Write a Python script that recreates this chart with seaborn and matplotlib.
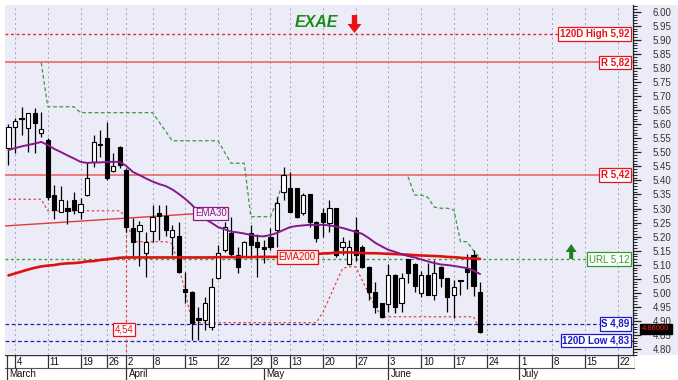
import numpy as np
import pandas as pd
import matplotlib
matplotlib.use("Agg")
import matplotlib.pyplot as plt
import seaborn as sns
from matplotlib.ticker import MultipleLocator, FormatStrFormatter
from matplotlib.transforms import blended_transform_factory
from matplotlib.patches import Rectangle, Polygon

sns.set_style("white")
plt.rcParams['font.family'] = ['Liberation Sans', 'DejaVu Sans']

# ---------------- data ----------------
idx = list(range(-1, 72))  # trading-day index (0 = Mar 4)
opens = [5.514, 5.589, 5.622, 5.587, 5.639, 5.568, 5.544, 5.348, 5.289, 5.301,
         5.330, 5.289, 5.348, 5.467, 5.530, 5.550, 5.435, 5.520, 5.437, 5.232,
         5.221, 5.141, 5.221, 5.283, 5.274, 5.200, 5.201, 5.013, 5.004, 4.909,
         4.903, 4.880, 5.052, 5.153, 5.212, 5.135, 5.131, 5.213, 5.182, 5.163,
         5.200, 5.224, 5.360, 5.372, 5.372, 5.283, 5.351, 5.253, 5.283, 5.250,
         5.301, 5.164, 5.103, 5.222, 5.163, 5.093, 5.004, 4.963, 4.961, 5.064,
         4.963, 5.120, 5.103, 5.000, 5.064, 4.993, 5.093, 5.052, 4.991, 5.046,
         5.090, 5.135, 5.003]
highs = [5.601, 5.621, 5.660, 5.641, 5.657, 5.645, 5.550, 5.384, 5.380, 5.330,
         5.360, 5.337, 5.461, 5.562, 5.580, 5.609, 5.497, 5.522, 5.444, 5.265,
         5.257, 5.218, 5.313, 5.313, 5.313, 5.242, 5.252, 5.075, 5.006, 4.951,
         4.987, 5.052, 5.170, 5.253, 5.271, 5.164, 5.185, 5.242, 5.210, 5.188,
         5.231, 5.342, 5.449, 5.431, 5.374, 5.355, 5.352, 5.255, 5.301, 5.330,
         5.303, 5.200, 5.188, 5.271, 5.170, 5.096, 5.040, 4.965, 5.101, 5.066,
         5.071, 5.122, 5.105, 5.079, 5.105, 5.117, 5.095, 5.054, 5.046, 5.047,
         5.140, 5.153, 5.039]
lows = [5.455, 5.497, 5.560, 5.501, 5.499, 5.555, 5.330, 5.263, 5.287, 5.245,
        5.281, 5.262, 5.346, 5.449, 5.482, 5.402, 5.430, 5.444, 5.217, 5.128,
        5.096, 5.057, 5.182, 5.188, 5.202, 5.135, 5.071, 4.964, 4.832, 4.832,
        4.868, 4.868, 5.050, 5.147, 5.129, 5.071, 5.128, 5.130, 5.056, 5.108,
        5.153, 5.164, 5.330, 5.287, 5.268, 5.277, 5.236, 5.182, 5.200, 5.218,
        5.129, 5.135, 5.099, 5.113, 5.089, 4.975, 4.927, 4.912, 4.932, 4.929,
        4.933, 5.034, 5.004, 4.984, 4.991, 4.975, 5.022, 4.933, 4.910, 4.993,
        5.014, 4.989, 4.858]
closes = [5.589, 5.613, 5.620, 5.639, 5.603, 5.582, 5.342, 5.295, 5.330, 5.292,
          5.295, 5.316, 5.408, 5.538, 5.527, 5.409, 5.451, 5.455, 5.236, 5.182,
          5.242, 5.182, 5.271, 5.275, 5.224, 5.224, 5.074, 5.004, 4.893, 4.904,
          4.963, 5.020, 5.141, 5.233, 5.138, 5.093, 5.182, 5.172, 5.164, 5.155,
          5.164, 5.319, 5.419, 5.289, 5.271, 5.348, 5.253, 5.194, 5.253, 5.301,
          5.135, 5.182, 5.164, 5.135, 5.093, 5.004, 4.951, 4.915, 5.064, 4.951,
          5.052, 5.070, 5.023, 5.064, 4.993, 5.071, 5.052, 4.984, 5.020, 5.044,
          5.074, 5.023, 4.860]
ema30 = [5.508, 5.515, 5.521, 5.526, 5.531, 5.537, 5.526, 5.512, 5.501, 5.489,
         5.478, 5.466, 5.462, 5.464, 5.464, 5.466, 5.466, 5.466, 5.451, 5.430,
         5.419, 5.407, 5.396, 5.387, 5.380, 5.368, 5.352, 5.334, 5.313, 5.288,
         5.263, 5.249, 5.234, 5.226, 5.218, 5.215, 5.211, 5.206, 5.202, 5.201,
         5.206, 5.213, 5.224, 5.234, 5.238, 5.240, 5.242, 5.242, 5.242, 5.240,
         5.236, 5.231, 5.224, 5.217, 5.210, 5.195, 5.178, 5.165, 5.153, 5.146,
         5.138, 5.131, 5.126, 5.119, 5.112, 5.106, 5.101, 5.099, 5.096, 5.092,
         5.088, 5.079, 5.067]
ema200 = [5.062, 5.069, 5.076, 5.083, 5.089, 5.094, 5.097, 5.099, 5.103, 5.105,
          5.106, 5.108, 5.112, 5.113, 5.117, 5.119, 5.122, 5.125, 5.126, 5.126,
          5.126, 5.126, 5.126, 5.126, 5.126, 5.126, 5.126, 5.126, 5.126, 5.126,
          5.126, 5.126, 5.127, 5.127, 5.127, 5.127, 5.127, 5.127, 5.128, 5.128,
          5.128, 5.128, 5.131, 5.132, 5.133, 5.135, 5.137, 5.138, 5.140, 5.141,
          5.143, 5.144, 5.144, 5.143, 5.142, 5.141, 5.141, 5.140, 5.139, 5.138,
          5.137, 5.136, 5.134, 5.133, 5.132, 5.131, 5.130, 5.128, 5.127, 5.125,
          5.123, 5.122, 5.121]
support_stop = [5.333, 5.333, 5.333, 5.333, 5.333, 5.333, 5.292, 5.292, 5.292, 5.292,
                5.292, 5.292, 5.292, 5.292, 5.292, 5.292, 5.292, 5.292, 5.266, 5.182,
                5.182, 5.182, 5.182, 5.182, 5.182, 5.175, 5.090, 5.006, 4.894, 4.894,
                4.894, 4.894, 4.894, 4.894, 4.894, 4.894, 4.894, 4.894, 4.894, 4.894,
                4.894, 4.894, 4.894, 4.894, 4.894, 4.894, 4.894, 4.894, 4.931, 4.983,
                5.035, 5.087, 5.093, 5.093, 5.045, 4.997, 4.950, 4.915, 4.915, 4.915,
                4.915, 4.915, 4.915, 4.915, 4.915, 4.915, 4.915, 4.915, 4.915, 4.915,
                4.915, 4.915, 4.868]
stop1_idx = list(range(4, 42))
stop1 = [5.819, 5.662, 5.662, 5.662, 5.662, 5.662, 5.641, 5.641, 5.641, 5.641,
         5.641, 5.641, 5.641, 5.641, 5.641, 5.641, 5.641, 5.641, 5.608, 5.575,
         5.541, 5.541, 5.541, 5.541, 5.541, 5.541, 5.541, 5.541, 5.500, 5.461,
         5.461, 5.461, 5.271, 5.271, 5.271, 5.271, 5.330, 5.402]
stop2_idx = list(range(60, 72))
stop2 = [5.413, 5.348, 5.348, 5.340, 5.305, 5.301, 5.301, 5.295, 5.182, 5.182,
         5.150, 5.123]
trend_x = [-1.53, 27.17]
trend_y = [5.238, 5.281]
target_idx = 17
target_top = 5.266

levels = [5.92, 5.82, 5.42, 5.12, 4.89, 4.83]
level_labels = ["120D High 5,92", "R 5,82", "R 5,42", "URL 5,12", "S 4,89", "120D Low 4,83"]
last_price = "4.86000"

week_idx = [0, 5, 10, 14, 17, 21, 26, 31, 36, 39, 42, 47, 52, 57, 62, 67, 72, 77, 82, 87, 92]
week_labels = ["4", "11", "19", "26", "2", "8", "15", "22", "29", "8", "13", "20", "27",
               "3", "10", "17", "24", "1", "8", "15", "22"]
month_idx = [-1.2, 17, 38, 57, 77]
month_labels = ["March", "April", "May", "June", "July"]

# ---------------- figure ----------------
W, H = 678, 380
LAV = '#ECECF8'
fig = plt.figure(figsize=(W / 100, H / 100), dpi=100, facecolor='white')
fig.add_artist(Rectangle((5 / W, 25 / H), 673 / W, 350 / H, transform=fig.transFigure,
                         facecolor=LAV, edgecolor='none', zorder=-5))
ax = fig.add_axes([5 / W, 25 / H, 628 / W, 350 / H])
ax.set_facecolor(LAV)
XL = (-1.53, 94.34)
YL = (4.779, 6.024)
ax.set_xlim(*XL)
ax.set_ylim(*YL)

for s in ['top', 'left', 'bottom']:
    ax.spines[s].set_visible(False)
ax.spines['right'].set_color('#222222')
ax.spines['right'].set_linewidth(0.9)
ax.set_xticks([])
ax.yaxis.tick_right()
ax.yaxis.set_major_locator(MultipleLocator(0.05))
ax.yaxis.set_minor_locator(MultipleLocator(0.01))
ax.yaxis.set_major_formatter(FormatStrFormatter('%.2f'))
ax.tick_params(axis='y', which='major', length=6, width=0.9, pad=8, labelsize=7,
               colors='#222222', labelcolor='#333333')
ax.tick_params(axis='y', which='minor', length=3, width=0.7, colors='#222222')

# vertical grid
for i in week_idx:
    ax.axvline(i, color='#A4A4B4', lw=0.7, ls=(0, (2, 3)), zorder=0.5)

# horizontal levels
lv_col = ['#E8222A', '#EE5A5A', '#EE5A5A', '#3A9E3A', '#24249E', '#24249E']
lv_ls = [(0, (2, 2)), '-', '-', (0, (2, 2)), (0, (3, 2)), (0, (3, 2))]
lv_lw = [1.0, 1.1, 1.1, 1.0, 0.9, 0.9]
for v, c, ls, lw in zip(levels, lv_col, lv_ls, lv_lw):
    ax.axhline(v, color=c, ls=ls, lw=lw, zorder=3)

# stops
ax.plot(idx, support_stop, color='#E04848', lw=0.9, ls=(0, (2, 2)), zorder=3.5)
ax.plot(stop1_idx, stop1, color='#3C9A3C', lw=0.9, ls=(0, (3, 2)), zorder=3.5)
ax.plot(stop2_idx, stop2, color='#3C9A3C', lw=0.9, ls=(0, (3, 2)), zorder=3.5)
ax.vlines(target_idx, 4.70, target_top, color='#E04848', lw=0.9, ls=(0, (2, 2)), zorder=3.5)
ax.plot(trend_x, trend_y, color='#E23A3A', lw=1.0, zorder=3.6)

# candles
df = pd.DataFrame({'idx': idx, 'open': opens, 'high': highs, 'low': lows, 'close': closes,
                   'ema30': ema30, 'ema200': ema200})
up = df['close'] >= df['open']
ax.vlines(df['idx'], df['low'], df['high'], color='black', lw=0.9, zorder=5)
bottom = np.minimum(df['open'], df['close'])
height = np.maximum((df['close'] - df['open']).abs(), 0.003)
ax.bar(df['idx'], height, bottom=bottom, width=0.64,
       color=np.where(up, 'white', 'black'), edgecolor='black', linewidth=0.8, zorder=6)

# EMAs
sns.lineplot(data=df, x='idx', y='ema200', ax=ax, color='#E01010', lw=1.9, zorder=7)
sns.lineplot(data=df, x='idx', y='ema30', ax=ax, color='#86188A', lw=1.4, zorder=7.5)
ax.set_xlabel('')
ax.set_ylabel('')
ax.set_xlim(*XL)
ax.set_ylim(*YL)

# level label boxes
tr = blended_transform_factory(ax.transAxes, ax.transData)
lab_col = ['#E8141C', '#E8141C', '#E8141C', '#2E9B2E', '#1A1AC8', '#1A1AC8']
lab_w = ['bold', 'bold', 'bold', 'normal', 'bold', 'bold']
for v, t, c, w in zip(levels, level_labels, lab_col, lab_w):
    ax.text(0.9945, v, t, transform=tr, ha='right', va='center', fontsize=7, color=c,
            fontweight=w, zorder=10,
            bbox=dict(boxstyle='square,pad=0.18', fc='white', ec=c, lw=0.9))

ax.text(29.87, 5.283, 'EMA30', ha='center', va='center', fontsize=7, color='#86188A', zorder=10,
        bbox=dict(boxstyle='square,pad=0.18', fc='#F8F0F8', ec='#86188A', lw=0.9))
ax.text(43.09, 5.127, 'EMA200', ha='center', va='center', fontsize=7, color='#E01010', zorder=10,
        bbox=dict(boxstyle='square,pad=0.18', fc='#FBEFEF', ec='#E01010', lw=0.9))
ax.text(16.64, 4.869, '4,54', ha='center', va='center', fontsize=7, color='#E8141C', zorder=10,
        bbox=dict(boxstyle='square,pad=0.18', fc='white', ec='#E8141C', lw=0.9))

# title
ax.text(0.4952, 0.9486, 'EXAE', transform=ax.transAxes, ha='center', va='center',
        fontsize=11.5, fontweight='bold', fontstyle='italic', color='#1A8C1A', zorder=10)


def px_poly(points, color):
    """Decorative arrow drawn in figure pixel coordinates (y measured from top)."""
    pts = [(x / W, (H - y) / H) for x, y in points]
    fig.add_artist(Polygon(pts, closed=True, transform=fig.transFigure,
                           facecolor=color, edgecolor='none', zorder=20))


# red down arrow next to the title
px_poly([(351.8, 15), (357.2, 15), (357.2, 24), (361.5, 24), (354.5, 33),
         (347.5, 24), (351.8, 24)], '#EE1111')
# green up arrow near URL level
px_poly([(569.2, 259), (573.2, 259), (573.2, 252), (576.7, 252), (571.2, 244),
         (565.7, 252), (569.2, 252)], '#1C7F1C')

# last price box
fig.text(656 / W, (H - 329) / H, last_price, ha='center', va='center', fontsize=5.5,
         color='#FF2020', zorder=20,
         bbox=dict(boxstyle='square,pad=0.25', fc='black', ec='black'))

# ---------------- date axis ----------------
dax = fig.add_axes([5 / W, 0, 630 / W, 25 / H])
dax.set_xlim(XL[0], XL[1] + 0.3)
dax.set_ylim(0, 25)
dax.set_facecolor('white')
dax.axis('off')
dax.axhline(24.6, color='#333333', lw=1.0)
dax.axhline(12.2, color='#555555', lw=0.8)
for i, lab in zip(week_idx, week_labels):
    dax.vlines(i, 12.2, 24.6, color='#333333', lw=0.9)
    dax.text(i + 0.25, 18.2, lab, ha='left', va='center', fontsize=7, color='#111111')
for i, lab in zip(month_idx, month_labels):
    dax.vlines(i, 0, 24.6 if i < 0 else 12.2, color='#333333', lw=0.9)
    dax.text(i + 0.35, 6.0, lab, ha='left', va='center', fontsize=7, color='#111111')
dax.vlines(XL[1] + 0.25, 12.2, 24.6, color='#333333', lw=0.9)

fig.savefig('out.png', dpi=100, facecolor=fig.get_facecolor())
